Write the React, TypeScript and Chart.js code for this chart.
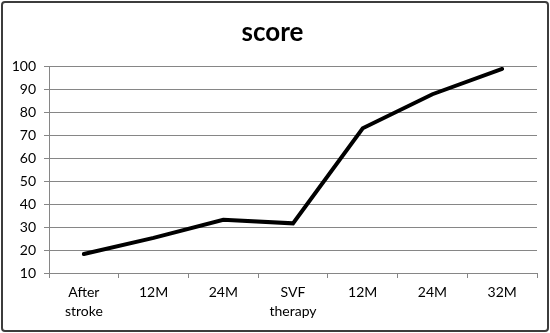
import React, { useEffect, useRef } from "react";
import { Chart, registerables } from "chart.js";

Chart.register(...registerables);

const categories: (string | string[])[] = [["After", "stroke"], "12M", "24M", ["SVF", "therapy"], "12M", "24M", "32M"];
const scores: number[] = [18.3, 25.3, 33.2, 31.6, 73, 87.8, 98.8];
const titleText = "score";
const yMin = 10;
const yMax = 100;
const yStep = 10;

export default function App() {
  const ref = useRef<HTMLCanvasElement | null>(null);

  useEffect(() => {
    document.body.style.margin = "0";
    const ctx = ref.current;
    if (!ctx) return;
    const font = "Lato, 'Open Sans', sans-serif";
    const chart = new Chart(ctx, {
      type: "line",
      data: {
        labels: categories,
        datasets: [
          {
            label: titleText,
            data: scores,
            borderColor: "#000000",
            borderWidth: 4,
            pointRadius: 0,
            tension: 0,
            fill: false,
            borderCapStyle: "round",
            borderJoinStyle: "miter",
          },
        ],
      },
      options: {
        responsive: false,
        animation: false,
        layout: { padding: { top: 10, right: 13, bottom: 0, left: 8 } },
        plugins: {
          legend: { display: false },
          tooltip: { enabled: false },
          title: {
            display: true,
            text: titleText,
            color: "#000",
            font: { family: font, size: 26, weight: "bold" },
            padding: { top: 7, bottom: 18 },
          },
        },
        scales: {
          x: {
            offset: true,
            grid: {
              display: true,
              drawOnChartArea: false,
              drawTicks: true,
              tickLength: 5,
              color: "#868686",
              offset: true,
            },
            border: { display: true, color: "#868686", width: 1 },
            ticks: {
              color: "#000",
              font: { family: font, size: 14, lineHeight: 1.35 },
              padding: 5,
              maxRotation: 0,
              autoSkip: false,
            },
            afterFit: (scale: any) => {
              scale.height = 60;
            },
          },
          y: {
            min: yMin,
            max: yMax,
            grid: { color: "#868686", tickLength: 5, lineWidth: 1 },
            border: { display: true, color: "#868686", width: 1 },
            ticks: {
              stepSize: yStep,
              color: "#000",
              font: { family: font, size: 14 },
              padding: 8,
            },
            afterFit: (scale: any) => {
              scale.width = 41;
            },
          },
        },
      },
    });
    return () => chart.destroy();
  }, []);

  return (
    <div style={{ position: "relative", width: 550, height: 333 }}>
      <canvas ref={ref} width={550} height={333} style={{ position: "absolute", left: 0, top: 0 }} />
      <div
        style={{
          position: "absolute",
          left: 1,
          top: 1,
          width: 548,
          height: 331,
          boxSizing: "border-box",
          border: "2px solid #3c3c3c",
          borderRadius: 4,
          pointerEvents: "none",
        }}
      />
    </div>
  );
}
